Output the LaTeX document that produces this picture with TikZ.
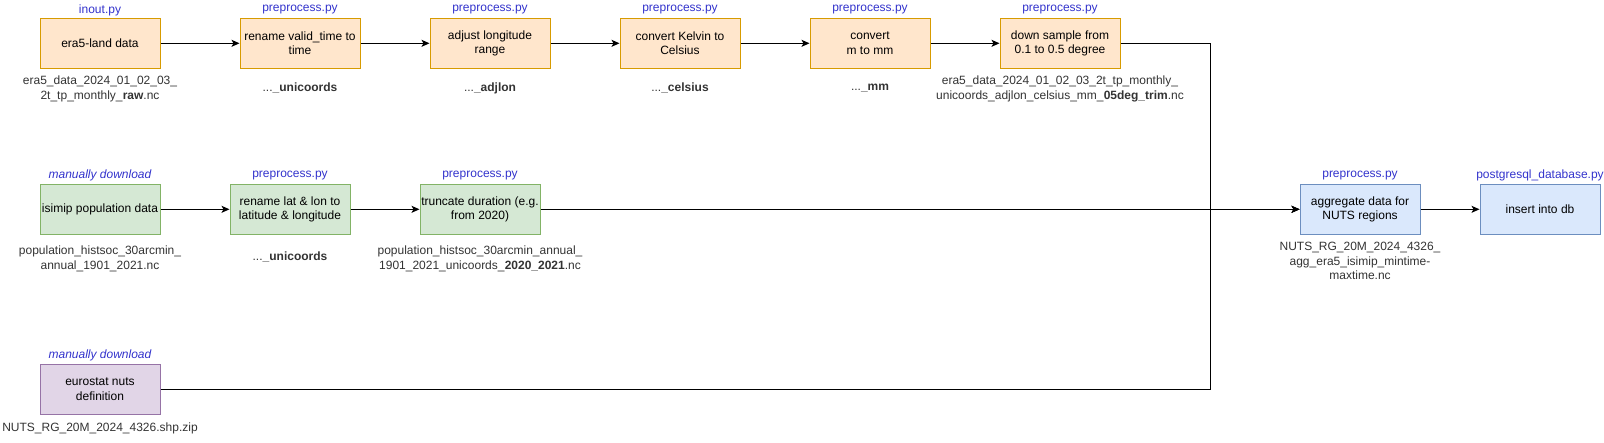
\documentclass[tikz,border=0pt]{standalone}
\usepackage{fontspec}
\setmainfont{Liberation Sans}
\usetikzlibrary{arrows.meta}
\definecolor{orF}{HTML}{FFE6CC}\definecolor{orD}{HTML}{D79B00}
\definecolor{grF}{HTML}{D5E8D4}\definecolor{grD}{HTML}{82B366}
\definecolor{blF}{HTML}{DAE8FC}\definecolor{blD}{HTML}{6C8EBF}
\definecolor{puF}{HTML}{E1D5E7}\definecolor{puD}{HTML}{9673A6}
\definecolor{lblue}{HTML}{3333CC}
\definecolor{fgray}{HTML}{333333}
\begin{document}
\begin{tikzpicture}[x=1pt,y=-1pt,
  box/.style={draw,line width=1pt,minimum width=120pt,minimum height=50pt,inner sep=0pt,
    align=center,font=\fontsize{12}{14.4}\selectfont,text=black},
  obox/.style={box,fill=orF,draw=orD},
  gbox/.style={box,fill=grF,draw=grD},
  bbox/.style={box,fill=blF,draw=blD},
  pbox/.style={box,fill=puF,draw=puD},
  tag/.style={text=lblue,inner sep=0pt,font=\fontsize{12}{14.4}\selectfont},
  fname/.style={text=fgray,align=center,inner sep=0pt,font=\fontsize{12}{14.4}\selectfont},
  conn/.style={line width=1pt,draw=black,-{Stealth[length=8pt,width=7pt,inset=2pt]}}
]
\useasboundingbox (0,0) rectangle (1604,442);

% row 1
\node[obox] (era5) at (100,43.3) {era5-land data};
\node[obox] (ren1) at (300,43.3) {rename valid\_time to\\time};
\node[obox] (adj)  at (490,43.3) {adjust longitude\\range};
\node[obox] (kel)  at (680,43.3) {convert Kelvin to\\Celsius};
\node[obox] (mm)   at (870,43.3) {convert\\m to mm};
\node[obox] (down) at (1060,43.3) {down sample from\\0.1 to 0.5 degree};

\node[tag] (t1) at (100,10) {inout.py};
\node[tag] (t2) at (300,10) {preprocess.py};
\node[tag] (t3) at (490,10) {preprocess.py};
\node[tag] (t4) at (680,10) {preprocess.py};
\node[tag] (t5) at (870,10) {preprocess.py};
\node[tag] (t6) at (1060,10) {preprocess.py};

\node[fname] (f1) at (100,89) {era5\_data\_2024\_01\_02\_03\_\\2t\_tp\_monthly\_\textbf{raw}.nc};
\node[fname] (f2) at (300,88) {...\textbf{\_unicoords}};
\node[fname] (f3) at (490,88) {...\textbf{\_adjlon}};
\node[fname] (f4) at (680,88) {...\textbf{\_celsius}};
\node[fname] (f5) at (870,88) {...\textbf{\_mm}};
\node[fname] (f6) at (1060,89) {era5\_data\_2024\_01\_02\_03\_2t\_tp\_monthly\_\\unicoords\_adjlon\_celsius\_mm\_\textbf{05deg\_trim}.nc};

% row 2
\node[gbox] (isi)   at (100,209.3) {isimip population data};
\node[gbox] (ren2)  at (290,209.3) {rename lat \& lon to\\latitude \& longitude};
\node[gbox] (trunc) at (480,209.3) {truncate duration (e.g.\\from 2020)};
\node[bbox] (agg)   at (1360,209.3) {aggregate data for\\NUTS regions};
\node[bbox] (ins)   at (1540,209.3) {insert into db};

\node[tag,font=\fontsize{12}{14.4}\selectfont\itshape] (t7) at (100,175.7) {manually download};
\node[tag] (t8)  at (290,175.7) {preprocess.py};
\node[tag] (t9)  at (480,175.7) {preprocess.py};
\node[tag] (t10) at (1360,175.7) {preprocess.py};
\node[tag] (t11) at (1540,175.7) {postgresql\_database.py};

\node[fname] (f7)  at (100,259) {population\_histsoc\_30arcmin\_\\annual\_1901\_2021.nc};
\node[fname] (f8)  at (290,257) {...\textbf{\_unicoords}};
\node[fname] (f9)  at (480,259) {population\_histsoc\_30arcmin\_annual\_\\1901\_2021\_unicoords\_\textbf{2020\_2021}.nc};
\node[fname] (f10) at (1360,261) {NUTS\_RG\_20M\_2024\_4326\_\\agg\_era5\_isimip\_mintime-\\maxtime.nc};

% row 3
\node[pbox] (euro) at (100,389) {eurostat nuts\\definition};
\node[tag,font=\fontsize{12}{14.4}\selectfont\itshape] (t12) at (100,355) {manually download};
\node[fname] (f11) at (100,428) {NUTS\_RG\_20M\_2024\_4326.shp.zip};

% connectors
\coordinate (j) at (1210,209.3);
\draw[conn] (era5) -- (ren1);
\draw[conn] (ren1) -- (adj);
\draw[conn] (adj) -- (kel);
\draw[conn] (kel) -- (mm);
\draw[conn] (mm) -- (down);
\draw[conn] (down.east) -| (j) -- (agg.west);
\draw[conn] (isi) -- (ren2);
\draw[conn] (ren2) -- (trunc);
\draw[conn] (trunc) -- (agg);
\draw[conn] (euro.east) -| (j) -- (agg.west);
\draw[conn] (agg) -- (ins);
\end{tikzpicture}
\end{document}
